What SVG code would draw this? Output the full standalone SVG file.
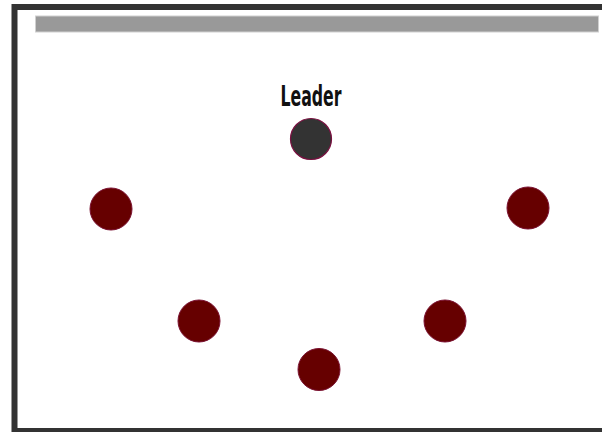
<svg xmlns="http://www.w3.org/2000/svg" width="602" height="432" viewBox="0 0 602 432">
<style>
.member{fill:#660000;stroke:#7a1030;stroke-width:1}
.leader{fill:#333333;stroke:#7a1040;stroke-width:1.2}
.lbl{font-family:"DejaVu Sans Condensed","Liberation Sans",sans-serif;font-size:29px;font-weight:bold;fill:#111}
</style>
<rect x="0" y="0" width="602" height="432" fill="#ffffff"/>
<rect x="14.5" y="7" width="700" height="424" fill="none" stroke="#333333" stroke-width="6"/>
<rect x="35.5" y="16" width="563" height="16" fill="#999999" stroke="#d0d0d0" stroke-width="1"/>
<g id="leader">
<text class="lbl" x="311" y="106" text-anchor="middle" textLength="61" lengthAdjust="spacingAndGlyphs">Leader</text>
<circle class="leader" cx="311" cy="139" r="20.5"/>
</g>
<g id="m1"><circle class="member" cx="111" cy="209" r="21"/></g>
<g id="m2"><circle class="member" cx="528" cy="208" r="21"/></g>
<g id="m3"><circle class="member" cx="199" cy="321" r="21"/></g>
<g id="m4"><circle class="member" cx="445" cy="321" r="21"/></g>
<g id="m5"><circle class="member" cx="319" cy="369.5" r="21"/></g>
<g id="connectors"></g>
</svg>
